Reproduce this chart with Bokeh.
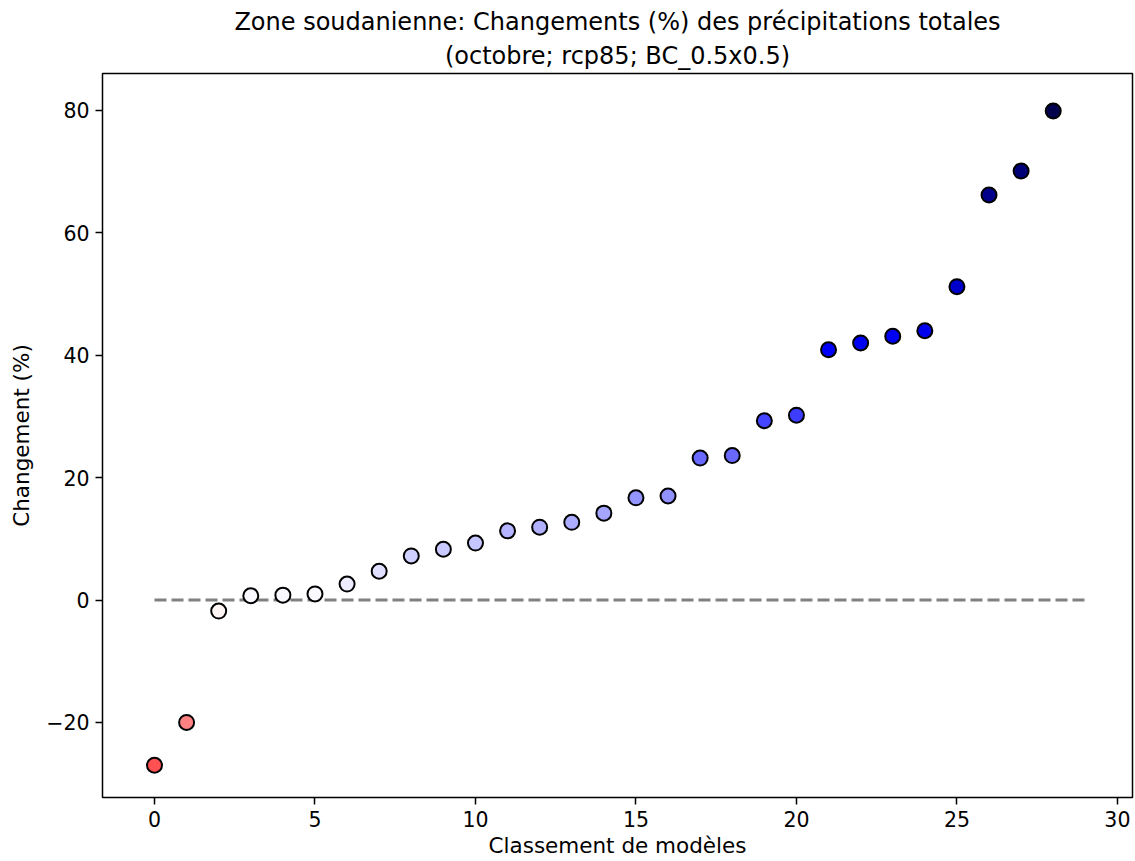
import numpy as np
from bokeh.plotting import figure
from bokeh.models import (ColumnDataSource, LinearColorMapper, Title, Range1d)
from bokeh.transform import transform
from bokeh.embed import file_html
from bokeh.resources import INLINE

# ---- data ----
title_line1 = "Zone soudanienne: Changements (%) des précipitations totales"
title_line2 = "(octobre; rcp85; BC_0.5x0.5)"
x_label = "Classement de modèles"
y_label = "Changement (%)"

rank = list(range(29))
change = [-27.0, -20.0, -1.8, 0.7, 0.8, 1.0, 2.6, 4.7, 7.2, 8.3, 9.3, 11.3, 11.9,
          12.7, 14.2, 16.7, 17.0, 23.2, 23.6, 29.3, 30.2, 40.9, 42.0, 43.1, 44.0,
          51.2, 66.2, 70.1, 79.9]

ref_x = [0, 29]
ref_y = [0, 0]

x_ticks = [0, 5, 10, 15, 20, 25, 30]
y_ticks = [-20, 0, 20, 40, 60, 80]
y_tick_labels = {-20: "\u221220", 0: "0", 20: "20", 40: "40", 60: "60", 80: "80"}

# seismic_r colormap anchors (style)
anchors = np.array([(0.5, 0.0, 0.0), (1.0, 0.0, 0.0), (1.0, 1.0, 1.0),
                    (0.0, 0.0, 1.0), (0.0, 0.0, 0.3)])
pos = np.linspace(0, 1, len(anchors))
t = np.linspace(0, 1, 256)
palette = []
for ti in t:
    rgb = [np.interp(ti, pos, anchors[:, k]) for k in range(3)]
    palette.append("#%02x%02x%02x" % tuple(int(round(c * 255)) for c in rgb))
mapper = LinearColorMapper(palette=palette, low=-80, high=80)

src = ColumnDataSource(dict(x=rank, y=change))

FONT = "DejaVu Sans"

p = figure(width=1135, height=861, output_backend="svg", toolbar_location=None,
           x_range=Range1d(-1.62, 30.47), y_range=Range1d(-32.27, 86.04),
           min_border_left=102, min_border_right=3, min_border_top=73,
           min_border_bottom=64)
p.title = None

t2 = Title(text=title_line2, align="center", text_font=FONT, text_font_size="24px",
           text_font_style="normal", text_color="black", standoff=8,
           text_line_height=0.8)
t1 = Title(text=title_line1, align="center", text_font=FONT, text_font_size="24px",
           text_font_style="normal", text_color="black", standoff=0,
           text_line_height=0.8)
p.add_layout(t2, "above")
p.add_layout(t1, "above")

p.grid.visible = False
p.outline_line_color = "black"
p.outline_line_width = 1.5
p.background_fill_color = "white"
p.border_fill_color = "white"

p.line(ref_x, ref_y, line_color="#808080", line_width=3, line_dash="12 5")
p.scatter("x", "y", source=src, size=15, marker="circle",
          fill_color=transform("y", mapper), line_color="black", line_width=2)

for ax in (p.xaxis[0], p.yaxis[0]):
    ax.axis_line_color = None
    ax.major_tick_line_color = "black"
    ax.major_tick_line_width = 1.5
    ax.major_tick_out = 7
    ax.major_tick_in = 0
    ax.minor_tick_line_color = None
    ax.major_label_text_font = FONT
    ax.major_label_text_font_size = "20.5px"
    ax.major_label_text_color = "black"
    ax.major_label_standoff = 6
    ax.axis_label_text_font = FONT
    ax.axis_label_text_font_size = "21.5px"
    ax.axis_label_text_font_style = "normal"
    ax.axis_label_text_color = "black"

p.xaxis.ticker = x_ticks
p.yaxis.ticker = y_ticks
p.yaxis.major_label_overrides = y_tick_labels
p.xaxis.axis_label = x_label
p.yaxis.axis_label = y_label
p.xaxis.axis_label_standoff = 3
p.yaxis.axis_label_standoff = 9

open("out.html", "w").write(file_html(p, INLINE))
